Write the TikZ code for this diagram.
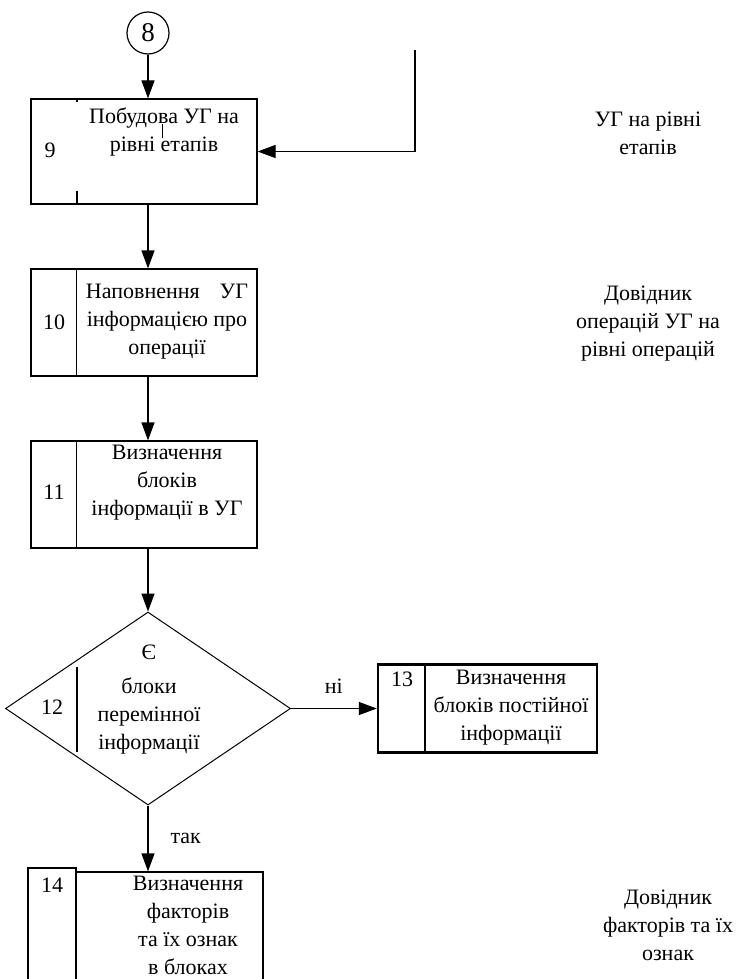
\documentclass[tikz,border=0pt]{standalone}
\usepackage{fontspec}
\setmainfont{Liberation Serif}
\usetikzlibrary{arrows.meta,shapes.geometric}
\begin{document}
\begin{tikzpicture}[x=1pt,y=-1pt,
  txt/.style={font=\fontsize{22}{28}\selectfont, align=center, inner sep=0pt},
  box/.style={draw, line width=1.2pt, inner sep=0pt},
  thickbox/.style={draw, line width=2.4pt, inner sep=0pt},
  line/.style={line width=1.2pt},
  arr/.style={line width=1.2pt, -{Triangle[length=18pt,width=13pt]}}]
\useasboundingbox (0,0) rectangle (738,979);
\coordinate (ax) at (148,0);
% circle 8
\node[draw, circle, line width=1.2pt, minimum size=42pt, inner sep=0pt, font=\fontsize{27}{30}\selectfont] (c8) at (148,33) {8};
% box 9
\node[box, minimum width=226pt, minimum height=105pt] (b9) at (144,151.5) {};
\draw[line] (77,99) -- (77,102);
\draw[line] (77,191) -- (77,204);
\draw[line width=0.8pt] (162,124) -- (162,138);
\node[txt] (n9) at (50,150) {9};
\node[txt] (t9) at (164,132) {Побудова УГ на\\рівні етапів};
\coordinate (fb) at (415,50);
\draw[arr] (fb) |- (b9.east);
\node[txt] (r9) at (648,133.5) {УГ на рівні\\етапів};
\draw[arr] (c8.south) -- (b9.north -| ax);
% box 10
\node[box, minimum width=226pt, minimum height=107pt] (b10) at (144,322.5) {};
\draw[line] (b10.north west) ++(46,0) -- ++(0,107);
\node[txt] (n10) at (54,322) {10};
\node[txt] (t10) at (167,322) {Наповнення\hspace{20pt}УГ\\інформацією про\\операції};
\node[txt] (r10) at (648,323.5) {Довідник\\операцій УГ на\\рівні операцій};
\draw[arr] (b9.south -| ax) -- (b10.north -| ax);
% box 11
\node[box, minimum width=226pt, minimum height=107pt] (b11) at (144,494.5) {};
\draw[line] (b11.north west) ++(46,0) -- ++(0,107);
\node[txt] (n11) at (54,492) {11};
\node[txt] (t11) at (167,483) {Визначення\\блоків\\інформації в УГ};
\draw[arr] (b10.south -| ax) -- (b11.north -| ax);
% diamond 12
\node[draw, diamond, line width=1.0pt, minimum width=285pt, minimum height=193pt, inner sep=0pt] (d12) at (148,708.5) {};
\draw[line] (77,667) -- (77,752);
\node[txt] (n12) at (52,707) {12};
\node[txt] (t12) at (149,700) {Є\\[6pt]блоки\\перемінної\\інформації};
\draw[arr] (b11.south -| ax) -- (d12.north);
% box 13
\node[thickbox, minimum width=219pt, minimum height=88pt] (b13) at (487.5,708.5) {};
\draw[line width=2.4pt] (425,664.5) -- (425,752.5);
\node[txt] (n13) at (402,679) {13};
\node[txt] (t13) at (511,708) {Визначення\\блоків постійної\\інформації};
\draw[arr] (d12.east) -- node[txt, above=14pt] (lno) {ні} (b13.west);
% box 14
\node[box, minimum width=187pt, minimum height=113pt] (b14) at (169.5,928.5) {};
\node[box, minimum width=48pt, minimum height=117pt] (b14n) at (52,926.5) {};
\node[txt] (n14) at (52,885) {14};
\node[txt] (t14) at (188,925) {Визначення\\факторів\\та їх ознак\\в блоках};
\draw[arr] (d12.south) -- node[txt, right=22pt] (lyes) {так} (b14.north -| d12.south);
\node[txt] (r14) at (668,925.5) {Довідник\\факторів та їх\\ознак};
\end{tikzpicture}
\end{document}
